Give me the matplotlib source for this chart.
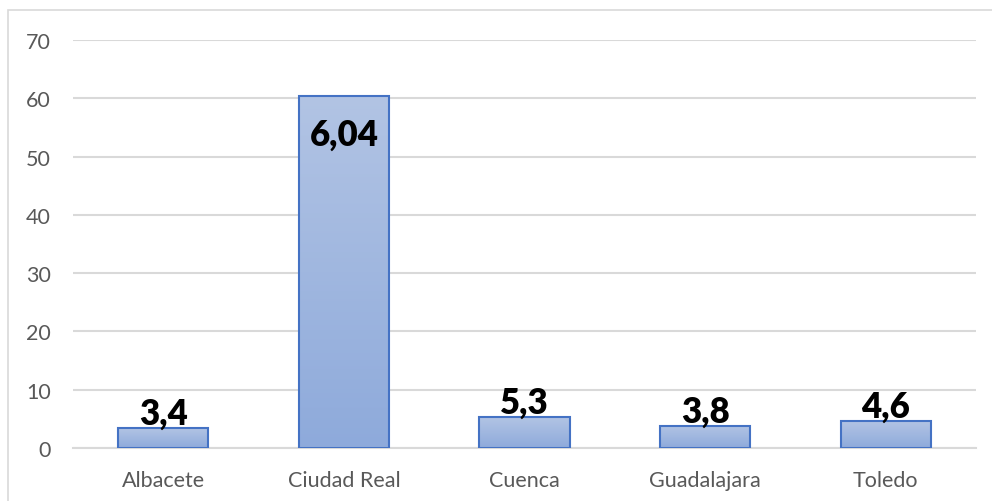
import numpy as np
import matplotlib.pyplot as plt
from matplotlib.colors import LinearSegmentedColormap
from matplotlib.patches import Rectangle

provincias = ["Albacete", "Ciudad Real", "Cuenca", "Guadalajara", "Toledo"]
valores = [3.4, 60.4, 5.3, 3.8, 4.6]
etiquetas = ["3,4", "6,04", "5,3", "3,8", "4,6"]
yticks = [0, 10, 20, 30, 40, 50, 60, 70]

plt.rcParams['font.family'] = ['Lato', 'DejaVu Sans']

fig = plt.figure(figsize=(9.92, 5.02), dpi=100)
# outer chart border (only top/left show in the crop)
fig.patches.append(Rectangle((8 / 992, -0.05), 1.1, 1 - 11 / 502 + 0.05,
                             transform=fig.transFigure, fill=False,
                             edgecolor='#d9d9d9', linewidth=1.2))

ax = fig.add_axes([73 / 992, 53 / 502, (976 - 73) / 992, (449 - 41) / 502])
ax.set_xlim(-0.5, len(provincias) - 0.5)
ax.set_ylim(0, 70)

grad = LinearSegmentedColormap.from_list("g", ["#8eaadb", "#b2c4e4"])
x = np.arange(len(provincias))
bars = ax.bar(x, valores, width=0.5, color='none', edgecolor='#4472c4',
              linewidth=1.5, zorder=3)
for b in bars:
    x0, y0 = b.get_x(), b.get_y()
    w, h = b.get_width(), b.get_height()
    im = ax.imshow(np.linspace(0, 1, 256).reshape(-1, 1), cmap=grad,
                   origin='lower', aspect='auto',
                   extent=[x0, x0 + w, y0, y0 + h], zorder=2)
    im.set_clip_path(b)

for i, (v, t) in enumerate(zip(valores, etiquetas)):
    if v > 30:
        ax.text(i, v - 3.7, t, ha='center', va='top', fontsize=25,
                fontweight='heavy', color='black', zorder=5)
    else:
        ax.text(i, v + 0.7, t, ha='center', va='baseline', fontsize=25,
                fontweight='heavy', color='black', zorder=5)

ax.set_yticks(yticks)
ax.set_xticks(x)
ax.set_xticklabels(provincias)
ax.yaxis.grid(True, color='#d9d9d9', linewidth=1.5, zorder=0)
ax.set_axisbelow(True)
for s in ['top', 'right', 'left']:
    ax.spines[s].set_visible(False)
ax.spines['bottom'].set_color('#d9d9d9')
ax.spines['bottom'].set_linewidth(1.5)
ax.tick_params(axis='both', length=0, labelsize=15.5, colors='#595959')
ax.tick_params(axis='y', pad=16)
ax.tick_params(axis='x', pad=16)

fig.savefig("out.png", dpi=100)
